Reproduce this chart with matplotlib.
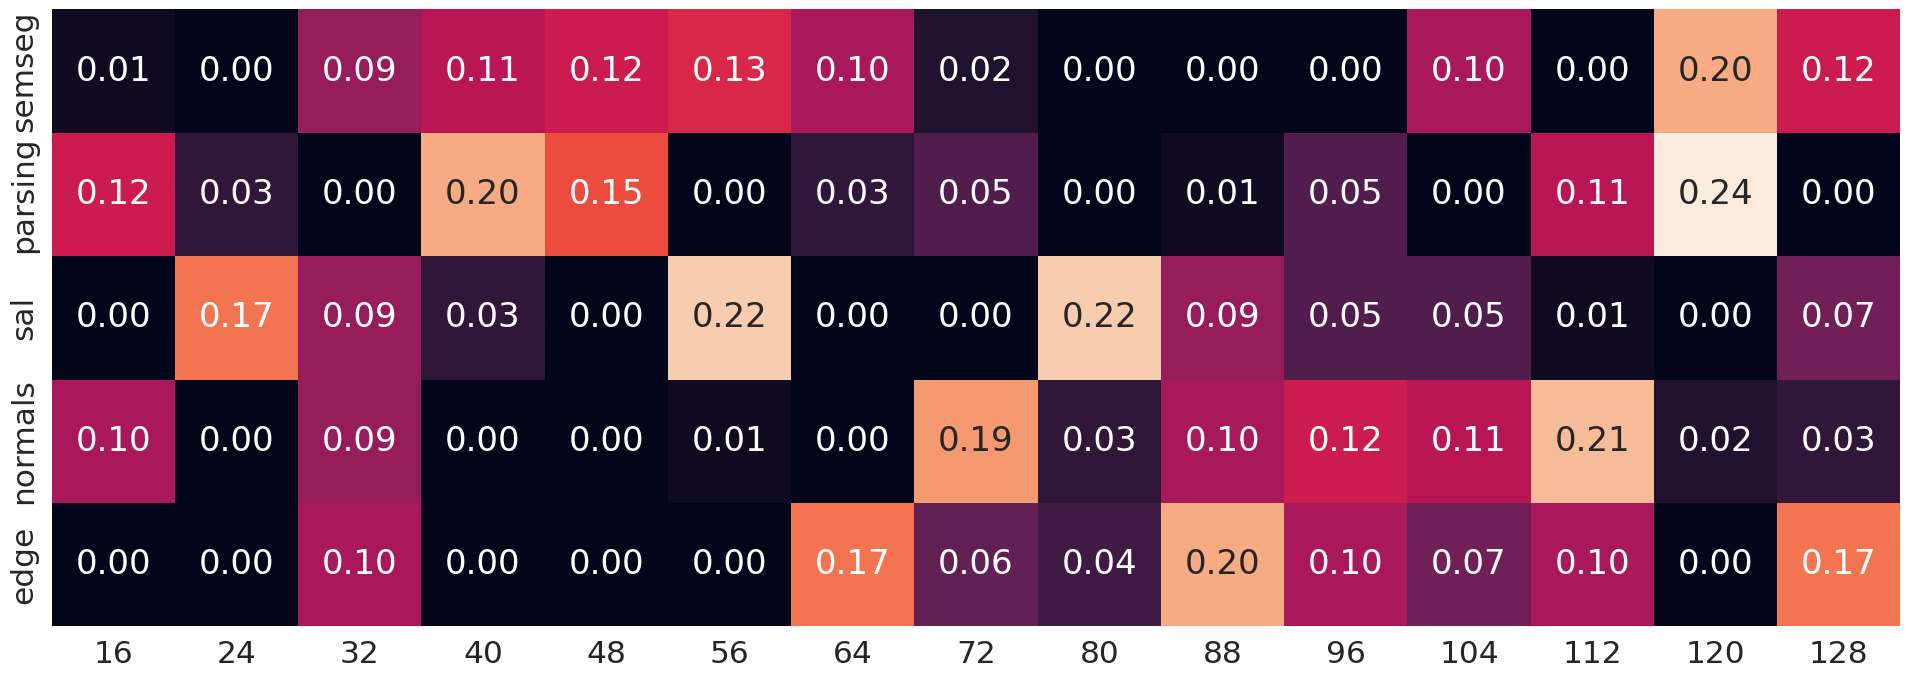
import numpy as np
import seaborn as sns
from matplotlib import pyplot as plt

tasks = ["semseg", "parsing", "sal", "normals", "edge"]
channels = [16, 24, 32, 40, 48, 56, 64, 72, 80, 88, 96, 104, 112, 120, 128]

semseg = [0.01, 0.00, 0.09, 0.11, 0.12, 0.13, 0.10, 0.02, 0.00, 0.00, 0.00, 0.10, 0.00, 0.20, 0.12]
parsing = [0.12, 0.03, 0.00, 0.20, 0.15, 0.00, 0.03, 0.05, 0.00, 0.01, 0.05, 0.00, 0.11, 0.24, 0.00]
sal = [0.00, 0.17, 0.09, 0.03, 0.00, 0.22, 0.00, 0.00, 0.22, 0.09, 0.05, 0.05, 0.01, 0.00, 0.07]
normals = [0.10, 0.00, 0.09, 0.00, 0.00, 0.01, 0.00, 0.19, 0.03, 0.10, 0.12, 0.11, 0.21, 0.02, 0.03]
edge = [0.00, 0.00, 0.10, 0.00, 0.00, 0.00, 0.17, 0.06, 0.04, 0.20, 0.10, 0.07, 0.10, 0.00, 0.17]

data = np.array([semseg, parsing, sal, normals, edge])

sns.set_theme(font_scale=2.05)
fig, ax = plt.subplots(figsize=(19.1, 6.78), dpi=100)
sns.heatmap(data, annot=True, fmt=".2f", cbar=False, ax=ax,
            xticklabels=channels, yticklabels=tasks, annot_kws={"size": 24.5})
ax.tick_params(labelsize=22.5)
plt.setp(ax.get_yticklabels(), rotation=90, va="center")
fig.subplots_adjust(left=0.027, right=0.995, top=0.986, bottom=0.076)
fig.savefig("out.png")
